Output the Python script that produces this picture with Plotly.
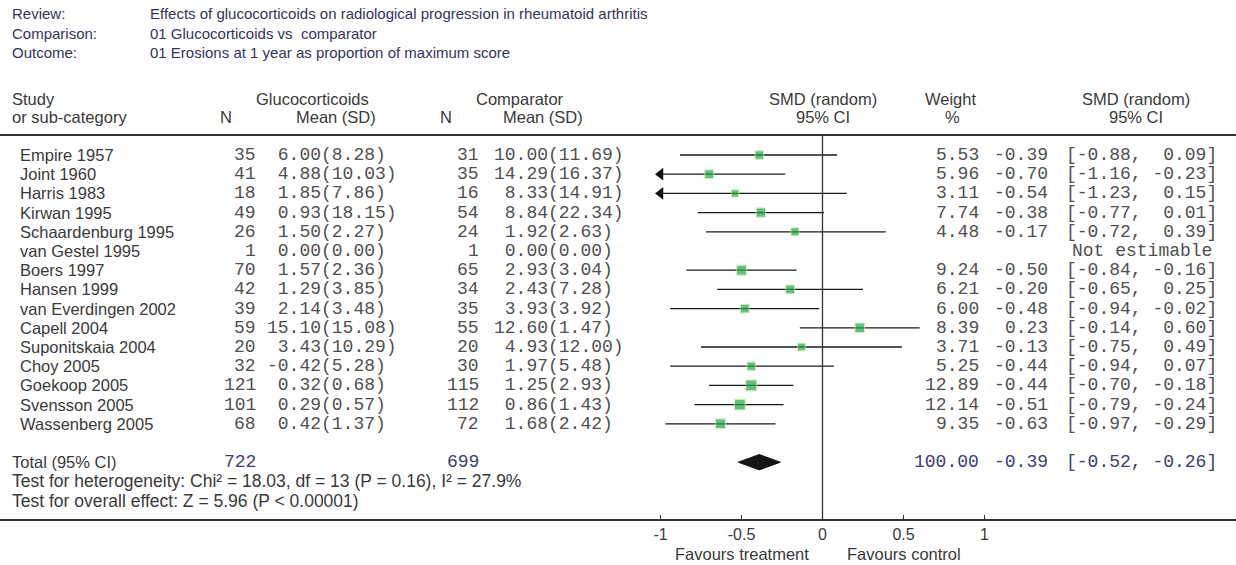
import plotly.graph_objects as go

# ---------------- data ----------------
review = "Effects of glucocorticoids on radiological progression in rheumatoid arthritis"
comparison = "01 Glucocorticoids vs  comparator"
outcome = "01 Erosions at 1 year as proportion of maximum score"
header_labels = ["Review:", "Comparison:", "Outcome:"]

studies = ["Empire 1957", "Joint 1960", "Harris 1983", "Kirwan 1995", "Schaardenburg 1995",
           "van Gestel 1995", "Boers 1997", "Hansen 1999", "van Everdingen 2002", "Capell 2004",
           "Suponitskaia 2004", "Choy 2005", "Goekoop 2005", "Svensson 2005", "Wassenberg 2005"]
n_gc = [35, 41, 18, 49, 26, 1, 70, 42, 39, 59, 20, 32, 121, 101, 68]
mean_gc = [6.00, 4.88, 1.85, 0.93, 1.50, 0.00, 1.57, 1.29, 2.14, 15.10, 3.43, -0.42, 0.32, 0.29, 0.42]
sd_gc = [8.28, 10.03, 7.86, 18.15, 2.27, 0.00, 2.36, 3.85, 3.48, 15.08, 10.29, 5.28, 0.68, 0.57, 1.37]
n_cp = [31, 35, 16, 54, 24, 1, 65, 34, 35, 55, 20, 30, 115, 112, 72]
mean_cp = [10.00, 14.29, 8.33, 8.84, 1.92, 0.00, 2.93, 2.43, 3.93, 12.60, 4.93, 1.97, 1.25, 0.86, 1.68]
sd_cp = [11.69, 16.37, 14.91, 22.34, 2.63, 0.00, 3.04, 7.28, 3.92, 1.47, 12.00, 5.48, 2.93, 1.43, 2.42]
weight = [5.53, 5.96, 3.11, 7.74, 4.48, None, 9.24, 6.21, 6.00, 8.39, 3.71, 5.25, 12.89, 12.14, 9.35]
smd = [-0.39, -0.70, -0.54, -0.38, -0.17, None, -0.50, -0.20, -0.48, 0.23, -0.13, -0.44, -0.44, -0.51, -0.63]
ci_lo = [-0.88, -1.16, -1.23, -0.77, -0.72, None, -0.84, -0.65, -0.94, -0.14, -0.75, -0.94, -0.70, -0.79, -0.97]
ci_hi = [0.09, -0.23, 0.15, 0.01, 0.39, None, -0.16, 0.25, -0.02, 0.60, 0.49, 0.07, -0.18, -0.24, -0.29]

total_n_gc = 722
total_n_cp = 699
total_weight = 100.00
total_smd = -0.39
total_lo = -0.52
total_hi = -0.26
heterogeneity = "Test for heterogeneity: Chi² = 18.03, df = 13 (P = 0.16), I² = 27.9%"
overall = "Test for overall effect: Z = 5.96 (P < 0.00001)"

tick_vals = [-1, -0.5, 0, 0.5, 1]
tick_text = ["-1", "-0.5", "0", "0.5", "1"]
axis_min = -1

# ---------------- layout helpers ----------------
W, H = 1236, 565
ROW0, DY = 155, 19.2


def px(x):
    return x / W


def row_of(ypx):
    return (ypx - ROW0) / DY


def nb(s):
    return s.replace(" ", "\u00a0")


SANS = "Liberation Sans, Arial, sans-serif"
MONO = "Liberation Mono, Courier New, monospace"
TXT = "#3a3a3a"
MTXT = "#505050"
HDR = "#34345a"
TOT = "#3c3c78"
SS = 16.5   # sans size
HS = 17.5   # footer sans size
TS = 15     # top block size
MS = 18     # mono size

ann = []


def text(x, y, s, anchor="left", font=SANS, size=SS, color=TXT, xref="paper", align="left"):
    ann.append(dict(x=px(x) if xref == "paper" else x, y=y, xref=xref, yref="y", text=s,
                    showarrow=False, xanchor=anchor, yanchor="middle", align=align,
                    font=dict(family=font, size=size, color=color)))


# top header block (one multi-line text per column)
top_y = row_of(33)
text(10, top_y, "<br>".join(header_labels), color=HDR, size=TS)
text(148, top_y, "<br>".join(nb(v) for v in [review, comparison, outcome]), color=HDR, size=TS)

# column headers
h1, h2 = row_of(99), row_of(117)
text(10, h1, "Study")
text(10, h2, "or sub-category")
text(312, h1, "Glucocorticoids", "center")
text(226, h2, "N", "center")
text(336, h2, "Mean (SD)", "center")
text(520, h1, "Comparator", "center")
text(446, h2, "N", "center")
text(543, h2, "Mean (SD)", "center")
text(823, h1, "SMD (random)", "center")
text(823, h2, "95% CI", "center")
text(950, h1, "Weight", "center")
text(952, h2, "%", "center")
text(1136, h1, "SMD (random)", "center")
text(1136, h2, "95% CI", "center")

for i, s in enumerate(studies):
    text(18, i, s)
    text(258, i, str(n_gc[i]), "right", MONO, MS, MTXT)
    text(265, i, nb(f"{mean_gc[i]:5.2f}({sd_gc[i]:.2f})"), "left", MONO, MS, MTXT)
    text(481, i, str(n_cp[i]), "right", MONO, MS, MTXT)
    text(492, i, nb(f"{mean_cp[i]:5.2f}({sd_cp[i]:.2f})"), "left", MONO, MS, MTXT)
    if weight[i] is None:
        text(1142, i, "Not estimable", "center", MONO, MS, MTXT)
    else:
        text(981, i, f"{weight[i]:.2f}", "right", MONO, MS, MTXT)
        text(1050, i, f"{smd[i]:.2f}", "right", MONO, MS, MTXT)
        text(1064, i, nb(f"[{ci_lo[i]:5.2f}, {ci_hi[i]:5.2f}]"), "left", MONO, MS, MTXT)

rt = len(studies) + 1
text(10, rt, "Total (95% CI)")
text(258, rt, str(total_n_gc), "right", MONO, MS, TOT)
text(481, rt, str(total_n_cp), "right", MONO, MS, TOT)
text(981, rt, f"{total_weight:.2f}", "right", MONO, MS, TOT)
text(1050, rt, f"{total_smd:.2f}", "right", MONO, MS, TOT)
text(1064, rt, nb(f"[{total_lo:5.2f}, {total_hi:5.2f}]"), "left", MONO, MS, TOT)
text(10, rt + 1, heterogeneity, size=HS)
text(10, rt + 2, overall, size=HS)

# favours labels
fav_y = row_of(554)
text(-0.5, fav_y, "Favours treatment", "center", xref="x", size=16.5)
text(0.5, fav_y, "Favours control", "center", xref="x", size=16.5)

# ---------------- marks ----------------
fig = go.Figure()

lx, ly = [], []
arrow_y = []
for i in range(len(studies)):
    if smd[i] is None:
        continue
    lo = max(ci_lo[i], axis_min)
    lx += [lo, ci_hi[i], None]
    ly += [i, i, None]
    if ci_lo[i] < axis_min:
        arrow_y.append(i)

fig.add_trace(go.Scatter(x=lx, y=ly, mode="lines", line=dict(color="#1a1a1a", width=1.3),
                         hoverinfo="skip", showlegend=False))
fig.add_trace(go.Scatter(x=[axis_min] * len(arrow_y), y=arrow_y, mode="markers",
                         marker=dict(symbol="triangle-left", size=11, color="#111111"),
                         hoverinfo="skip", showlegend=False))

sq_x = [smd[i] for i in range(len(studies)) if smd[i] is not None]
sq_y = [i for i in range(len(studies)) if smd[i] is not None]
sq_s = [4 + 1.9 * weight[i] ** 0.5 for i in range(len(studies)) if smd[i] is not None]
fig.add_trace(go.Scatter(x=sq_x, y=sq_y, mode="markers",
                         marker=dict(symbol="square", size=sq_s, color="#22a84a",
                                     line=dict(color="#bfe69a", width=1)),
                         hoverinfo="skip", showlegend=False))

dh = 0.4
fig.add_trace(go.Scatter(x=[total_lo, total_smd, total_hi, total_smd, total_lo],
                         y=[rt, rt - dh, rt, rt + dh, rt], mode="lines", fill="toself",
                         fillcolor="#151515", line=dict(color="#151515", width=1),
                         hoverinfo="skip", showlegend=False))

# axis geometry: value v -> pixel 822.5 + 162*v
X0, XU = 822.5, 162.0
x_range = [(0 - X0) / XU, (W - X0) / XU]
line_y = 520
top_line_y = 135

fig.update_layout(
    width=W, height=H, margin=dict(l=0, r=0, t=0, b=0),
    paper_bgcolor="white", plot_bgcolor="white",
    annotations=ann,
    xaxis=dict(range=x_range, domain=[0, 1], anchor="free", position=(H - line_y) / H,
               showgrid=False, zeroline=False, showline=True, linecolor="#333333", linewidth=1.5,
               ticks="inside", ticklen=4, tickcolor="#333333", tickwidth=1.2,
               tickvals=tick_vals, ticktext=tick_text,
               tickfont=dict(family=SANS, size=16, color=TXT), fixedrange=True),
    yaxis=dict(range=[row_of(H), row_of(0)], domain=[0, 1], visible=False, fixedrange=True),
    shapes=[
        dict(type="line", xref="paper", yref="paper", x0=0, x1=1,
             y0=(H - top_line_y) / H, y1=(H - top_line_y) / H, line=dict(color="#333333", width=2)),
        dict(type="line", xref="x", yref="paper", x0=0, x1=0,
             y0=(H - top_line_y) / H, y1=(H - line_y) / H, line=dict(color="#333333", width=1.3)),
    ],
)

fig.write_html("out.html", config={"displayModeBar": False},
               post_script="document.body.style.margin='0';document.body.style.overflow='hidden';")
